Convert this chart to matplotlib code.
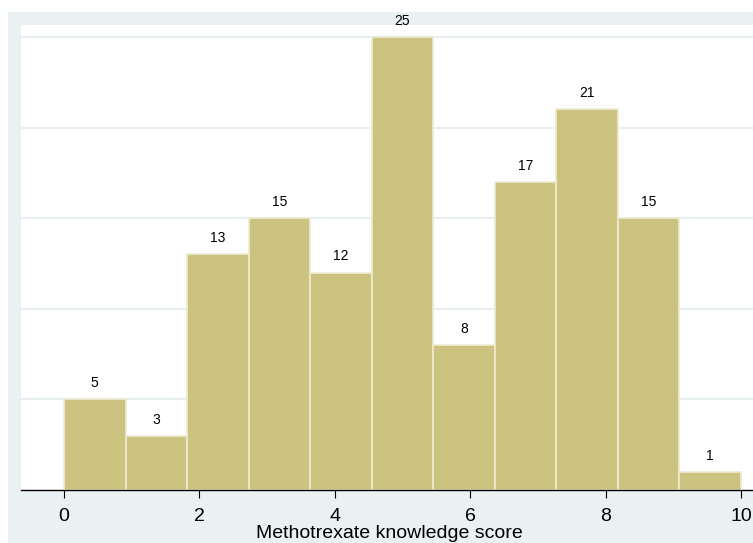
import matplotlib
matplotlib.use("Agg")
import matplotlib.pyplot as plt
from matplotlib.patches import Rectangle
import numpy as np

plt.rcParams['font.family'] = ['Liberation Sans', 'DejaVu Sans']

counts = [5, 3, 13, 15, 12, 25, 8, 17, 21, 15, 1]
xmin, xmax = 0, 10
xticks = [0, 2, 4, 6, 8, 10]
yticks = [5, 10, 15, 20, 25]
xlabel = "Methotrexate knowledge score"

nbins = len(counts)
width = (xmax - xmin) / nbins
edges = xmin + width * np.arange(nbins)

W, H = 753, 543
fig = plt.figure(figsize=(W / 100, H / 100), dpi=100)
fig.patches.append(Rectangle((8 / W, 0), 1, 1 - 12 / H, transform=fig.transFigure,
                             facecolor="#EAF1F3", edgecolor="none", zorder=-10))

base_px, top_px = 490, 25
ax = fig.add_axes([21 / W, 1 - base_px / H, 1 - 21 / W, (base_px - top_px) / H])
ax.set_zorder(5)
ax.set_facecolor("white")
ax.bar(edges, counts, width=width, align="edge", color="#CCC381",
       edgecolor="#EEEBD3", linewidth=1.2, zorder=2)
for x, c in zip(edges, counts):
    ax.text(x + width / 2, c + 0.5, str(c), ha="center", va="bottom",
            fontsize=10, color="black", zorder=3)

px = 67.7
py = (base_px - 37) / 25.0
ax.set_xlim(-(64 - 21) / px, (753 - 64) / px)
ax.set_ylim(0, (base_px - top_px) / py)
ax.set_yticks(yticks)
ax.yaxis.grid(True, color="#E6EEEF", linewidth=1.3, zorder=1)
ax.set_axisbelow(True)
ax.tick_params(axis="y", left=False, labelleft=False)
ax.set_xticks(xticks)
ax.tick_params(axis="x", direction="out", length=6, width=0.8, labelsize=14, pad=7)
for s in ["left", "right", "top"]:
    ax.spines[s].set_visible(False)
ax.spines["bottom"].set_linewidth(1.0)
fig.text(389 / W, 1 - 538 / H, xlabel, ha="center", va="baseline",
         fontsize=14)

fig.savefig("out.png", dpi=100)
